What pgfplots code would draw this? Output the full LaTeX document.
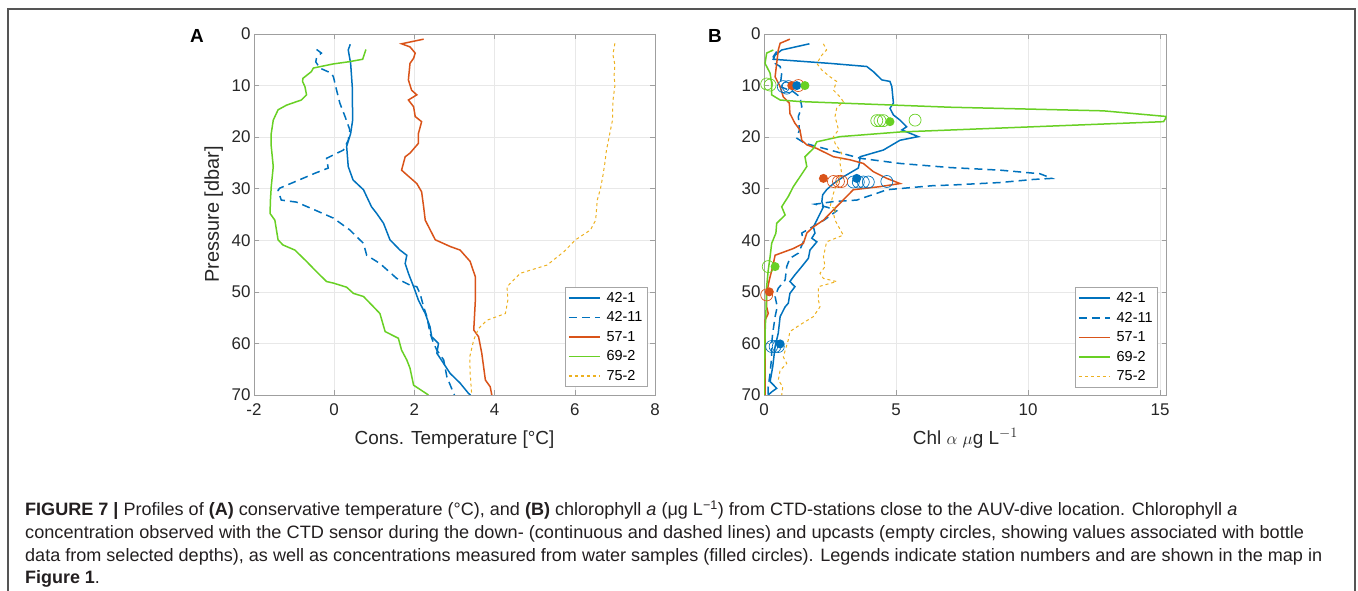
\documentclass[border=0pt]{standalone}
\usepackage{fontspec}
\setmainfont{Liberation Sans}
\newfontfamily\capfont{Liberation Sans}
\usepackage{graphicx}
\usepackage{pgfplots}
\pgfplotsset{compat=1.18}
\definecolor{mblue}{RGB}{0,114,189}
\definecolor{morange}{RGB}{217,83,25}
\definecolor{mgreen}{RGB}{104,208,36}
\definecolor{myellow}{RGB}{237,177,32}
\definecolor{labgray}{RGB}{38,38,38}
\definecolor{capgray}{RGB}{35,31,32}
\definecolor{framegray}{RGB}{85,85,85}
\pgfplotsset{
 mystyle/.style={
  scale only axis, height=361bp,
  y dir=reverse, ymin=0, ymax=70, ytick={0,10,...,70},
  axis line style={draw=gray!75, line width=0.7bp},
  grid=major, major grid style={draw=gray!18, line width=0.6bp},
  tick style={draw=gray!75, line width=0.6bp}, major tick length=5bp,
  tick align=inside,
  ticklabel style={font=\fontsize{17}{20}\selectfont, text=labgray},
  xticklabel style={yshift=-5bp},
  /pgf/number format/assume math mode=true,
  label style={font=\fontsize{19}{22}\selectfont, text=labgray, inner sep=0pt},
  legend style={draw=gray!70, line width=0.6bp, fill=white, inner sep=3bp,
    font=\fontsize{14.5}{16}\selectfont, text=black, row sep=4bp, column sep=4bp},
  legend cell align=left,
  legend image code/.code={\draw[line width=1.5bp,##1] (0bp,0bp) -- (31bp,0bp);},
  every axis plot/.append style={line width=1.5bp},
 }
}
\newcommand\capsz{\capfont\fontsize{18}{22}\selectfont}
\begin{document}
\begin{tikzpicture}[x=1bp,y=1bp]
\useasboundingbox (0,0) rectangle (1358,591);
\draw[framegray, line width=1.4bp] (8,-3) -- (8,582) -- (1355,582) -- (1355,-3);

\node[anchor=base west, inner sep=0pt, font=\fontsize{19}{22}\selectfont\bfseries] at (190,548.3) {A};
\node[anchor=base west, inner sep=0pt, font=\fontsize{19}{22}\selectfont\bfseries] at (708,548.3) {B};

% Panel A
\begin{axis}[mystyle, at={(254bp,196bp)}, anchor=south west, width=401bp,
  xmin=-2, xmax=8, xtick={-2,0,...,8},
  xlabel={Cons. Temperature [°C]}, ylabel={Pressure [dbar]},
  xlabel style={at={(axis description cs:0.5,-0.136)}, anchor=base},
  ylabel style={at={(axis description cs:-0.077,0.5)}, anchor=south, font=\fontsize{20}{22}\selectfont},
  legend style={at={(0.982,0.022)}, anchor=south east}]
\addplot[mblue] coordinates {(0.4,2) (0.35,3.1) (0.41,5.7) (0.45,10.2) (0.46,16.7) (0.41,19.3) (0.31,21.8) (0.35,25.7) (0.47,28.3) (0.73,30.2) (0.93,33.5) (1.06,34.8) (1.23,36.7) (1.39,39.9) (1.64,41.9) (1.81,42.9) (1.77,44.5) (1.85,46.4) (1.98,49.0) (2.1,51.6) (2.27,54.2) (2.39,56.8) (2.43,58.7) (2.6,60) (2.56,61.9) (2.73,63.9) (2.89,65.8) (3.14,67.7) (3.35,69.7) (3.4,70)};
\addlegendentry{42-1}
\addplot[mblue, dash pattern=on 8bp off 5bp] coordinates {(-0.44,3.0) (-0.32,3.7) (-0.44,4.6) (-0.46,5.4) (-0.36,6.6) (-0.07,7.6) (-0.02,8.3) (0.06,10.9) (0.14,13.4) (0.27,16.0) (0.39,18.6) (0.35,20.6) (0.23,22.5) (-0.19,24.1) (-0.15,26.0) (-0.48,27.0) (-1.36,29.9) (-1.4,30.3) (-1.32,32.2) (-0.94,32.6) (-0.52,34.0) (-0.02,35.7) (0.39,38.0) (0.73,40.6) (0.81,42.9) (1.14,44.5) (1.56,47.4) (1.89,48.7) (2.06,49.0) (2.14,50.3) (2.23,52.9) (2.31,54.8) (2.39,58.0) (2.48,60.0) (2.56,61.3) (2.73,63.2) (2.81,66.5) (2.98,69.7) (3.0,70)};
\addlegendentry{42-11}
\addplot[morange] coordinates {(2.23,1.0) (1.68,1.9) (1.89,2.5) (2.02,3.7) (1.98,4.7) (1.89,5.7) (1.85,8.9) (1.93,10.9) (2.06,11.8) (1.85,12.8) (1.98,14.1) (2.02,16.0) (2.18,17.0) (2.1,19.3) (2.1,21.2) (1.89,23.1) (1.77,23.8) (1.68,26.4) (1.81,27.3) (2.06,29.0) (2.18,30.6) (2.23,33.5) (2.27,36.1) (2.52,39.9) (2.89,41.2) (3.14,41.9) (3.39,44.1) (3.52,47.1) (3.52,51.6) (3.48,57.4) (3.6,58.7) (3.68,61.9) (3.77,67.1) (3.89,68.4) (3.93,70)};
\addlegendentry{57-1}
\addplot[mgreen] coordinates {(0.79,3.0) (0.71,4.9) (0.35,5.4) (-0.02,5.8) (-0.52,6.6) (-0.57,7.3) (-0.78,8.6) (-0.79,9.2) (-0.73,10.2) (-0.69,11.8) (-0.82,12.8) (-1.19,13.8) (-1.4,14.7) (-1.52,16.7) (-1.57,19.3) (-1.57,21.8) (-1.52,25.7) (-1.57,29.6) (-1.59,32.2) (-1.6,34.8) (-1.48,36.1) (-1.4,39.9) (-1.28,40.9) (-0.98,41.9) (-0.69,44.1) (-0.44,46.1) (-0.19,48.0) (-0.02,48.3) (0.31,49.1) (0.48,50.3) (0.73,50.9) (0.98,52.9) (1.14,54.2) (1.27,57.7) (1.6,59.0) (1.68,61.3) (1.81,63.2) (1.89,64.8) (1.98,68.1) (2.35,70)};
\addlegendentry{69-2}
\addplot[myellow, line width=1bp, dash pattern=on 3bp off 3bp] coordinates {(7.0,1.8) (6.95,4) (7.0,6) (6.98,8) (7.0,10) (6.95,13) (6.94,16.7) (6.88,19) (6.79,22.5) (6.75,25) (6.7,27.5) (6.64,30) (6.56,32.2) (6.52,36.1) (6.39,38.0) (6.02,39.9) (5.73,42.2) (5.31,44.8) (4.89,45.8) (4.64,46.4) (4.31,49.0) (4.33,51.6) (4.27,54.2) (3.81,55.5) (3.6,57.1) (3.48,59.3) (3.38,62.6) (3.39,65.8) (3.43,70)};
\addlegendentry{75-2}
\end{axis}

% Panel B
\begin{axis}[mystyle, at={(764bp,196bp)}, anchor=south west, width=402.7bp,
  xmin=0, xmax=15.25, xtick={0,5,10,15},
  xlabel={Chl $\alpha$ $\mu$g L$^{-1}$},
  xlabel style={at={(axis description cs:0.5,-0.136)}, anchor=base},
  legend style={at={(0.978,0.021)}, anchor=south east}]
\addplot[mblue] coordinates {(1.72,1.9) (0.67,3.1) (0.42,4.1) (0.35,4.9) (2.5,5.7) (3.89,6.3) (4.14,7.3) (4.46,8.9) (4.77,9.2) (4.84,10.2) (4.9,13.4) (4.77,14.4) (4.9,15.7) (5.15,16.7) (5.4,18.0) (5.22,18.6) (5.84,19.9) (5.15,20.6) (4.52,22.5) (3.64,23.8) (3.61,25.1) (3.57,26.0) (3.0,27.7) (2.63,29.0) (2.37,30.2) (2.22,31.2) (2.19,32.5) (2.25,33.5) (2.0,36.1) (1.87,37.4) (1.93,38.6) (1.81,39.6) (2.0,40.3) (1.74,41.9) (1.68,43.5) (1.43,45.1) (1.17,46.7) (0.98,48.0) (1.17,49.0) (0.98,50.3) (0.92,52.2) (0.8,52.9) (0.61,54.8) (0.54,58.0) (0.42,60.6) (0.33,64.5) (0.23,67.4) (0.48,68.7) (0.29,69.4) (0.16,70)};
\addlegendentry{42-1}
\addplot[mblue, dash pattern=on 8bp off 5bp] coordinates {(0.48,3.4) (0.35,4.4) (0.42,5.7) (0.61,6.3) (0.67,7.6) (0.61,10.2) (1.11,11.2) (1.36,12.2) (1.43,14.1) (1.3,16.0) (1.34,18.6) (1.24,20.2) (1.55,21.2) (2.5,22.5) (3.64,24.1) (5.15,25.1) (7.05,25.9) (8.94,26.4) (10.45,27.1) (10.9,28.0) (10.2,28.2) (8.94,28.8) (7.05,29.3) (6.41,29.4) (4.65,30.2) (4.27,30.9) (3.51,32.2) (2.63,32.5) (1.93,33.0) (2.4,33.6) (2.75,34.3) (2.3,36) (1.8,37.5) (1.43,38.6) (1.49,40.3) (1.3,42.5) (0.98,43.5) (0.86,45.1) (0.8,47.7) (0.54,49.3) (0.42,50.9) (0.5,52.9) (0.42,54.8) (0.33,58.0) (0.29,60.0) (0.29,62.6) (0.23,65.8) (0.16,68.4) (0.16,70)};
\addlegendentry{42-11}
\addplot[morange] coordinates {(0.98,1.0) (0.61,1.8) (0.54,3.1) (0.48,5.7) (0.42,8.3) (0.61,10.2) (0.73,12.2) (0.96,13.4) (0.98,15.4) (1.17,17.3) (1.36,18.6) (1.43,20.6) (1.62,21.5) (2.0,22.2) (2.63,23.8) (3.26,24.4) (3.76,25.1) (4.14,26.7) (4.65,28.0) (5.15,29.0) (4.39,29.6) (3.38,30.2) (3.13,31.5) (2.88,32.8) (2.63,34.1) (2.25,36.1) (1.87,37.4) (1.62,38.6) (1.49,40.6) (1.11,41.6) (0.42,42.9) (0.33,45.1) (0.2,47.7) (0.1,50.3) (0.1,52.9) (0.16,54.2) (0.04,55.5) (0.04,70)};
\addlegendentry{57-1}
\addplot[mgreen] coordinates {(0.35,3.1) (0.1,3.7) (0.04,5.7) (0.23,7.6) (0.29,9.6) (0.29,11.8) (0.61,12.8) (1.36,13.1) (7.05,14.2) (12.85,14.9) (15.25,16.0) (15.13,17.0) (5.15,19.0) (2.88,19.9) (2.0,20.9) (1.87,22.2) (1.55,23.8) (1.62,25.7) (1.36,27.7) (1.11,29.6) (0.92,31.5) (0.67,33.5) (0.8,35.1) (0.48,36.7) (0.45,38.6) (0.29,40.6) (0.23,43.2) (0.16,45.8) (0.1,49.0) (0.08,52.9) (0.04,58.0) (0.01,70)};
\addlegendentry{69-2}
\addplot[myellow, line width=1bp, dash pattern=on 3bp off 3bp] coordinates {(2.25,1.9) (2.37,3.1) (2.19,4.1) (2.0,5.7) (2.19,7.0) (2.5,8.3) (2.75,9.2) (2.63,10.9) (2.88,12.2) (3.0,13.1) (2.75,14.4) (2.69,16.0) (2.82,18.6) (2.63,19.9) (2.69,21.2) (2.94,23.1) (2.88,25.1) (2.94,27.0) (2.75,29.0) (2.63,30.9) (2.5,33.5) (2.75,33.9) (2.63,34.8) (2.69,36.1) (3.0,39.0) (2.37,40.3) (2.25,43.2) (2.31,45.1) (2.12,46.4) (2.25,47.4) (2.75,48.0) (2.06,49.0) (2.06,51.6) (2.12,52.9) (1.87,54.8) (1.36,56.4) (0.98,57.7) (0.92,59.3) (0.73,62.6) (0.86,63.9) (0.61,65.2) (0.54,67.1) (0.71,68.4) (0.67,70)};
\addlegendentry{75-2}
% upcast open circles
\addplot[forget plot, only marks, mark=o, mark size=6bp, mgreen, line width=0.7bp] coordinates {(0.1,9.7) (0.23,9.9) (4.27,16.8) (4.39,16.8) (4.52,16.8) (5.72,16.7) (0.16,45.1)};
\addplot[forget plot, only marks, mark=o, mark size=6bp, mblue, line width=0.7bp] coordinates {(0.73,10.2) (0.86,10.5) (0.92,10.2) (3.38,28.7) (3.57,28.7) (3.76,28.7) (3.95,28.7) (4.65,28.6) (0.29,60.6) (0.42,60.6) (0.54,60.6)};
\addplot[forget plot, only marks, mark=o, mark size=6bp, morange, line width=0.7bp] coordinates {(1.3,10.0) (2.63,28.6) (2.82,28.6) (2.94,28.6) (0.1,50.6)};
% water samples filled circles
\addplot[forget plot, only marks, mark=*, mark size=3.7bp, morange, fill=morange] coordinates {(1.05,10) (2.25,28.0) (0.2,50)};
\addplot[forget plot, only marks, mark=*, mark size=3.7bp, mblue, fill=mblue] coordinates {(1.24,10) (3.51,28.0) (0.61,60.1)};
\addplot[forget plot, only marks, mark=*, mark size=3.7bp, mgreen, fill=mgreen] coordinates {(1.55,10) (4.77,17.0) (0.42,45.1)};
\end{axis}

% caption
\begin{scope}[every node/.style={anchor=base west, inner sep=0pt, text=capgray}]
\node at (25,75) {\resizebox{1212bp}{\height}{\capsz\textbf{FIGURE 7 |} Profiles of \textbf{(A)} conservative temperature (°C), and \textbf{(B)} chlorophyll \textit{a} (μg L\textsuperscript{−1}) from CTD-stations close to the AUV-dive location. Chlorophyll \textit{a}}};
\node at (25,52) {\resizebox{1279bp}{\height}{\capsz concentration observed with the CTD sensor during the down- (continuous and dashed lines) and upcasts (empty circles, showing values associated with bottle}};
\node at (25,29) {\resizebox{1297bp}{\height}{\capsz data from selected depths), as well as concentrations measured from water samples (filled circles). Legends indicate station numbers and are shown in the map in}};
\node at (25,7) {\capsz\textbf{Figure 1}.};
\end{scope}
\end{tikzpicture}
\end{document}
